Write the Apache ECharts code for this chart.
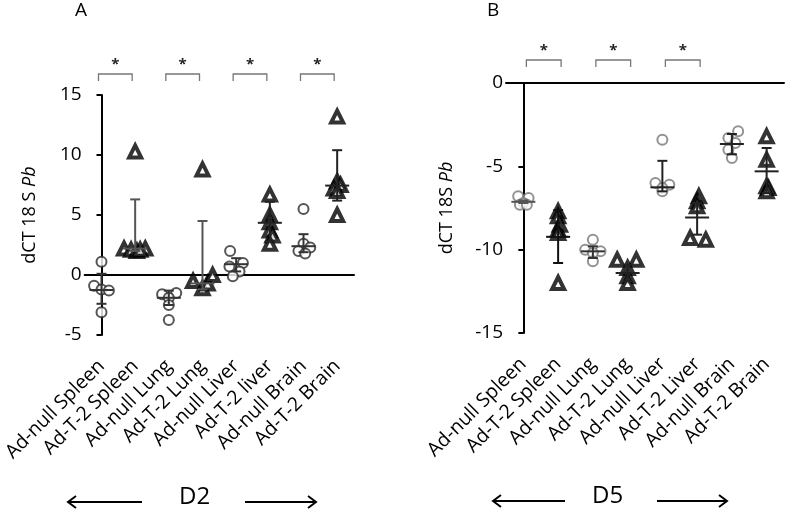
<!DOCTYPE html>
<html><head><meta charset="utf-8">
<script src="https://cdn.jsdelivr.net/npm/echarts@6/dist/echarts.min.js"></script>
<style>html,body{margin:0;padding:0;background:#fff}#c{width:787px;height:517px}</style>
</head><body><div id="c"></div>
<script>
// ---------- DATA ----------
const categoriesA = ['Ad-null Spleen','Ad-T-2 Spleen','Ad-null Lung','Ad-T-2 Lung','Ad-null Liver','Ad-T-2 liver','Ad-null Brain','Ad-T-2 Brain'];
const categoriesB = ['Ad-null Spleen','Ad-T-2 Spleen','Ad-null Lung','Ad-T-2 Lung','Ad-null Liver','Ad-T-2 Liver','Ad-null Brain','Ad-T-2 Brain'];

// individual animals, panel A (D2)
const valuesA = [
  [1.1, -0.9, -1.2, -1.3, -3.1],
  [10.3, 2.2, 2.1, 2.0, 2.2, 2.1],
  [-1.5, -1.6, -1.9, -2.5, -3.75],
  [8.8, -0.5, -1.1, -0.7, 0.0],
  [2.0, 0.7, 1.0, 0.3, -0.1],
  [6.7, 5.0, 4.4, 3.7, 3.3, 2.6],
  [5.5, 2.6, 2.3, 2.0, 1.8],
  [13.2, 7.8, 7.5, 7.2, 7.0, 5.0]
];
const jitterA = [
  [0, -0.22, 0, 0.22, 0],
  [0, -0.33, -0.12, 0.05, 0.3, 0.15],
  [0.22, -0.2, 0, 0, 0],
  [0, -0.28, 0, 0.15, 0.3],
  [-0.18, -0.2, 0.2, 0.1, -0.1],
  [0, 0, 0, 0, 0.08, 0],
  [0, 0, 0.2, -0.15, 0.05],
  [0, 0, 0.1, -0.1, 0, 0]
];
const meanA = [-1.25, 2.2, -1.9, -0.7, 0.9, 4.35, 2.4, 7.45];
const lowA  = [-2.4, 2.0, -2.5, -1.2, 0.3, 2.8, 1.9, 6.2];
const highA = [0.1, 6.3, -1.3, 4.5, 1.4, 6.1, 3.4, 10.4];

// individual animals, panel B (D5)
const valuesB = [
  [-6.8, -6.9, -7.2, -7.3, -7.3],
  [-7.7, -8.0, -8.5, -8.8, -9.0, -12.0],
  [-9.4, -10.0, -10.1, -10.2, -10.7],
  [-10.6, -10.6, -11.1, -11.6, -12.0],
  [-3.4, -6.0, -6.1, -6.3, -6.5],
  [-6.8, -7.1, -7.4, -9.3, -9.4],
  [-2.9, -3.3, -3.6, -4.0, -4.5],
  [-3.2, -4.6, -6.2, -6.3, -6.5]
];
const jitterB = [
  [-0.15, 0.15, 0, -0.1, 0.1],
  [0, 0, 0.05, 0, 0, 0],
  [0, -0.22, 0.22, 0, 0],
  [-0.3, 0.25, 0, 0, 0],
  [0, -0.2, 0.2, 0, 0],
  [0.05, 0, 0, -0.2, 0.25],
  [0.18, -0.1, 0.1, -0.1, 0],
  [0, 0, 0, 0.05, 0]
];
const meanB = [-7.13, -9.23, -10.1, -11.4, -6.26, -8.07, -3.66, -5.3];
const lowB  = [-7.2, -10.8, -10.5, -11.9, -6.5, -9.1, -4.28, -6.6];
const highB = [-7.05, -7.63, -9.8, -10.9, -4.67, -7.2, -3.06, -3.9];

const sigPairsA = [[0,1],[2,3],[4,5],[6,7]];
const sigPairsB = [[0,1],[2,3],[4,5]];
const sigLabel = '*';

const yAxisA = {min: -5, max: 15, interval: 5};
const yAxisB = {min: -15, max: 0, interval: 5};

// ---------- BUILD ----------
const FONT = 'Open Sans';
function points(values, jitter, parity) {
  const out = [];
  values.forEach((g, i) => {
    if (i % 2 !== parity) return;
    g.forEach((v, k) => out.push([i + jitter[i][k], v]));
  });
  return out;
}
function errData(mean, low, high) {
  return mean.map((m, i) => [i, m, low[i], high[i]]);
}
function errRender(colors) {
  return function (params, api) {
    const x = api.value(0);
    const pm = api.coord([x, api.value(1)]);
    const pl = api.coord([x, api.value(2)]);
    const ph = api.coord([x, api.value(3)]);
    const c = colors[params.dataIndex];
    const st = {stroke: c, lineWidth: 2};
    const half = 12, cap = 5;
    return {type: 'group', children: [
      {type: 'line', shape: {x1: pm[0]-half, y1: pm[1], x2: pm[0]+half, y2: pm[1]}, style: st},
      {type: 'line', shape: {x1: pl[0], y1: pl[1], x2: ph[0], y2: ph[1]}, style: st},
      {type: 'line', shape: {x1: pl[0]-cap, y1: pl[1], x2: pl[0]+cap, y2: pl[1]}, style: st},
      {type: 'line', shape: {x1: ph[0]-cap, y1: ph[1], x2: ph[0]+cap, y2: ph[1]}, style: st}
    ]};
  };
}
function sigRender(yMax, rise, leg, shift) {
  return function (params, api) {
    const p0 = api.coord([api.value(0), yMax]);
    const p1 = api.coord([api.value(1), yMax]);
    const top = p0[1] - rise;
    const x0 = p0[0] + shift, x1 = p1[0] + shift;
    return {type: 'group', children: [
      {type: 'polyline', shape: {points: [[x0, top+leg],[x0, top],[x1, top],[x1, top+leg]]},
        style: {stroke: '#777', lineWidth: 1.3, fill: null}},
      {type: 'text', x: (x0+x1)/2, y: top - 9,
        style: {text: sigLabel, fill: '#222', font: 'bold 15px ' + FONT, align: 'center', verticalAlign: 'middle'}}
    ]};
  };
}
function catAxis(grid, cats) {
  return {type: 'category', gridIndex: grid, data: cats,
    axisLine: {lineStyle: {color: '#000', width: 2}},
    axisTick: {alignWithLabel: true, length: 7, lineStyle: {color: '#000', width: 2}},
    axisLabel: {rotate: 45, interval: 0, fontSize: 19.5, fontFamily: FONT, color: '#000', margin: 28},
    splitLine: {show: false}};
}
function hidAxis(grid) {
  return {type: 'value', gridIndex: grid, min: -0.5, max: 7.5, show: false, splitLine: {show: false}};
}
function valAxis(grid, cfg, gap, nameSep) {
  return {type: 'value', gridIndex: grid, min: cfg.min, max: cfg.max, interval: cfg.interval,
    axisLine: {show: true, lineStyle: {color: '#000', width: 2}},
    axisTick: {show: true, length: 5, lineStyle: {color: '#000', width: 2}},
    axisLabel: {fontSize: 19, fontFamily: FONT, color: '#000', margin: 3},
    splitLine: {show: false},
    name: '{n|dCT 18' + nameSep + 'S }{i|Pb}', nameLocation: 'middle', nameRotate: 90, nameGap: gap,
    nameTextStyle: {rich: {
      n: {fontSize: 18, fontFamily: FONT, color: '#000'},
      i: {fontSize: 18, fontFamily: FONT, color: '#000', fontStyle: 'italic'}}}};
}
const circleStyle = c => ({color: '#fff', borderColor: c, borderWidth: 2});
const triStyle = {color: '#fff', borderColor: '#000', borderWidth: 4};

const errColA = ['#333','#555','#333','#555','#333','#222','#333','#222'];
const errColB = ['#555','#111','#333','#222','#222','#222','#222','#222'];

const option = {
  animation: false,
  backgroundColor: '#fff',
  grid: [
    {left: 82, top: 95, width: 272, height: 240, containLabel: false},
    {left: 506, top: 83, width: 278, height: 250, containLabel: false}
  ],
  xAxis: [catAxis(0, categoriesA), hidAxis(0), catAxis(1, categoriesB), hidAxis(1)],
  yAxis: [valAxis(0, yAxisA, 46, ' '), valAxis(1, yAxisB, 50, '')],
  series: [
    {type: 'scatter', xAxisIndex: 1, yAxisIndex: 0, symbol: 'circle', symbolSize: 10,
      itemStyle: circleStyle('#2a2a2a'), data: points(valuesA, jitterA, 0), z: 2},
    {type: 'scatter', xAxisIndex: 1, yAxisIndex: 0, symbol: 'triangle', symbolSize: 12,
      itemStyle: triStyle, data: points(valuesA, jitterA, 1), z: 2},
    {type: 'custom', xAxisIndex: 1, yAxisIndex: 0, renderItem: errRender(errColA),
      data: errData(meanA, lowA, highA), z: 3},
    {type: 'custom', xAxisIndex: 1, yAxisIndex: 0, clip: false, renderItem: sigRender(yAxisA.max, 21, 7, -3),
      data: sigPairsA, z: 3},

    {type: 'scatter', xAxisIndex: 3, yAxisIndex: 1, symbol: 'circle', symbolSize: 10,
      itemStyle: circleStyle('#777'), data: points(valuesB, jitterB, 0), z: 2},
    {type: 'scatter', xAxisIndex: 3, yAxisIndex: 1, symbol: 'triangle', symbolSize: 12,
      itemStyle: triStyle, data: points(valuesB, jitterB, 1), z: 2},
    {type: 'custom', xAxisIndex: 3, yAxisIndex: 1, renderItem: errRender(errColB),
      data: errData(meanB, lowB, highB), z: 3},
    {type: 'custom', xAxisIndex: 3, yAxisIndex: 1, clip: false, renderItem: sigRender(yAxisB.max, 23, 7, 3),
      data: sigPairsB, z: 3}
  ],
  graphic: [
    {type: 'text', left: 75, top: 1, style: {text: 'A', font: '19px ' + FONT, fill: '#000'}},
    {type: 'text', left: 487, top: 1, style: {text: 'B', font: '19px ' + FONT, fill: '#000'}},
    {type: 'text', left: 179, top: 485, style: {text: 'D2', font: '24px ' + FONT, fill: '#000'}},
    {type: 'text', left: 592, top: 484, style: {text: 'D5', font: '24px ' + FONT, fill: '#000'}},
    {type: 'polyline', shape: {points: [[142,502],[68,502]]}, style: {stroke: '#000', lineWidth: 2}},
    {type: 'polyline', shape: {points: [[76,496],[68,502],[76,508]]}, style: {stroke: '#000', lineWidth: 2, fill: null}},
    {type: 'polyline', shape: {points: [[245,502],[316,502]]}, style: {stroke: '#000', lineWidth: 2}},
    {type: 'polyline', shape: {points: [[308,496],[316,502],[308,508]]}, style: {stroke: '#000', lineWidth: 2, fill: null}},
    {type: 'polyline', shape: {points: [[565,501],[493,501]]}, style: {stroke: '#000', lineWidth: 2}},
    {type: 'polyline', shape: {points: [[501,495],[493,501],[501,507]]}, style: {stroke: '#000', lineWidth: 2, fill: null}},
    {type: 'polyline', shape: {points: [[657,501],[727,501]]}, style: {stroke: '#000', lineWidth: 2}},
    {type: 'polyline', shape: {points: [[719,495],[727,501],[719,507]]}, style: {stroke: '#000', lineWidth: 2, fill: null}}
  ]
};
echarts.init(document.getElementById('c'), null, {renderer: 'canvas'}).setOption(option);
</script>
</body></html>
